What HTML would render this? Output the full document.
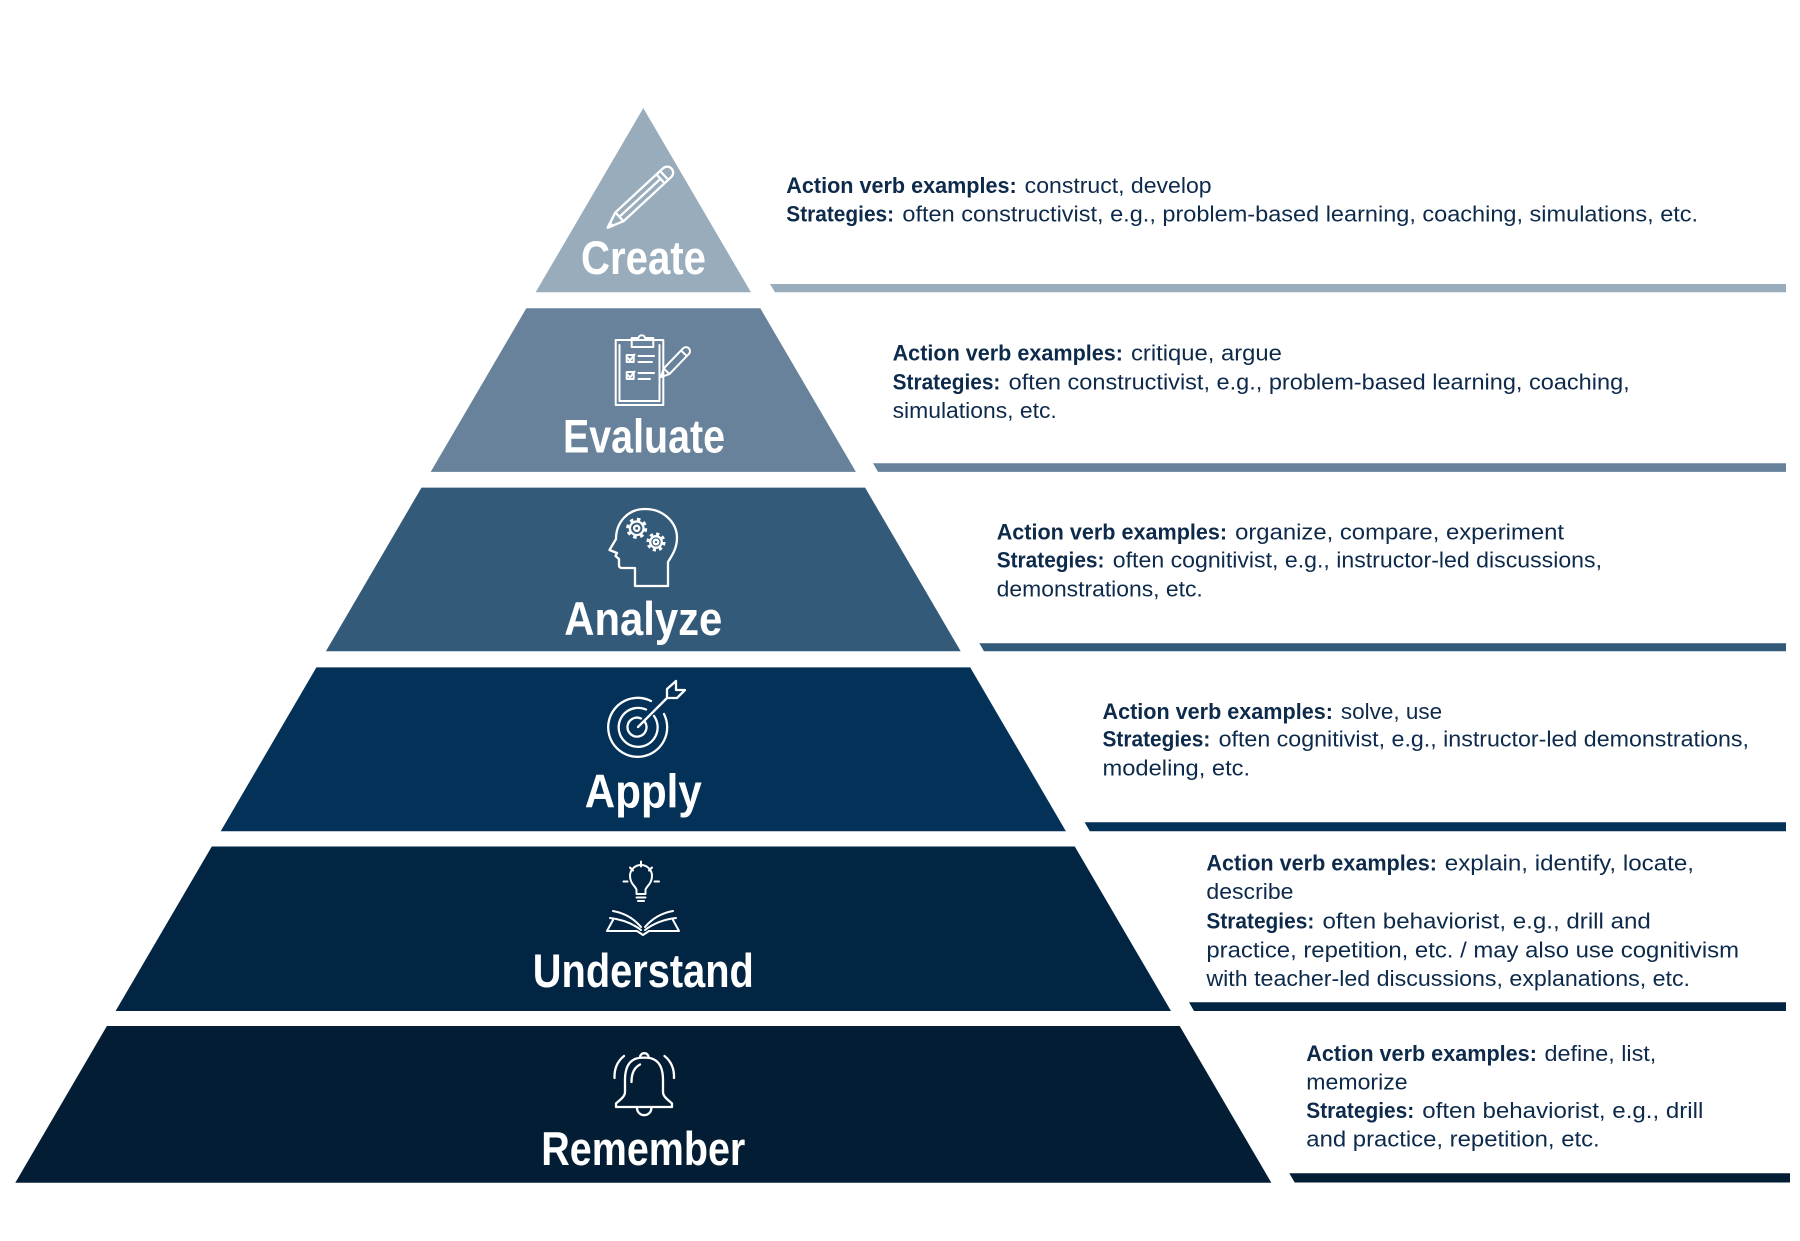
<!DOCTYPE html>
<html>
<head>
<meta charset="utf-8">
<style>
html,body{margin:0;padding:0;background:#ffffff;width:1800px;height:1241px;overflow:hidden}
svg{display:block}
.t{font-family:"Liberation Sans",Arial,sans-serif;font-size:22px;fill:#0d2a4b}
.b{font-weight:bold}
.h{font-family:"Liberation Sans",Arial,sans-serif;font-size:47px;font-weight:bold;fill:#ffffff}
.ic{fill:none;stroke:#ffffff;stroke-width:2.3;stroke-linecap:round;stroke-linejoin:round}
</style>
</head>
<body>
<svg width="1800" height="1241" viewBox="0 0 1800 1241" xmlns="http://www.w3.org/2000/svg">
<rect width="1800" height="1241" fill="#ffffff"/>

<!-- Pyramid bands -->
<polygon points="643.3,108.1 750.95,292.3 535.65,292.3" fill="#98acbc"/>
<polygon points="526.3,308.3 760.3,308.3 855.9,471.9 430.7,471.9" fill="#67829a"/>
<polygon points="421.5,487.6 865.1,487.6 960.7,651.3 325.9,651.3" fill="#345a7a"/>
<polygon points="316.4,667.4 970.2,667.4 1065.9,831.2 220.7,831.2" fill="#033158"/>
<polygon points="211.8,846.5 1074.8,846.5 1171.0,1011 115.6,1011" fill="#032544"/>
<polygon points="106.9,1026 1179.7,1026 1271.3,1182.7 15.3,1182.7" fill="#031e34"/>

<!-- Right bars -->
<polygon points="770,284 1786,284 1786,292.3 775,292.3" fill="#98acbc"/>
<polygon points="873,463.3 1786,463.3 1786,471.9 878,471.9" fill="#67829a"/>
<polygon points="979.3,643.3 1786,643.3 1786,651.3 984,651.3" fill="#345a7a"/>
<polygon points="1084.6,822.3 1786,822.3 1786,831.2 1089.8,831.2" fill="#033158"/>
<polygon points="1189,1002.3 1786,1002.3 1786,1011 1194,1011" fill="#032544"/>
<polygon points="1289.3,1173.3 1790,1173.3 1790,1182.5 1294.7,1182.5" fill="#031e34"/>

<!-- Band titles -->
<text class="h" x="643.5" y="274" text-anchor="middle" textLength="125" lengthAdjust="spacingAndGlyphs">Create</text>
<text class="h" x="644" y="452.3" text-anchor="middle" textLength="162" lengthAdjust="spacingAndGlyphs">Evaluate</text>
<text class="h" x="643.3" y="635" text-anchor="middle" textLength="158" lengthAdjust="spacingAndGlyphs">Analyze</text>
<text class="h" x="643.3" y="807.5" text-anchor="middle" textLength="117" lengthAdjust="spacingAndGlyphs">Apply</text>
<text class="h" x="643.3" y="987" text-anchor="middle" textLength="221" lengthAdjust="spacingAndGlyphs">Understand</text>
<text class="h" x="643.3" y="1165" text-anchor="middle" textLength="204" lengthAdjust="spacingAndGlyphs">Remember</text>

<!-- Icon: pencil (Create) -->
<g class="ic" transform="translate(607.7,227.7) rotate(-42.8)">
  <path d="M0,0 L16,-6 L72,-6 L72,6 L16,6 Z"/>
  <path d="M16,-6 L16,6"/>
  <path d="M16,0 L72,0"/>
  <path d="M72,-6 L77,-6 L77,6 L72,6"/>
  <path d="M77,-6 L81,-6 A6,6 0 0 1 81,6 L77,6"/>
  <path d="M0,0 L5,-2 L5,2 Z" fill="#ffffff"/>
</g>

<!-- Icon: clipboard (Evaluate) -->
<g class="ic" style="stroke-width:2">
  <rect x="615.7" y="340" width="47.6" height="65"/>
  <path d="M619.5,345 L619.5,401 L659.5,401 L659.5,345"/>
  <path d="M631.7,347 L631.7,338 L638.5,338 A3.3,3.3 0 0 1 645,338 L653.3,338 L653.3,347 Z"/>
  <rect x="626.7" y="355" width="7" height="7"/>
  <rect x="626.7" y="372" width="7" height="7"/>
  <path d="M628,358 L630,360.5 L634.5,354.5"/>
  <path d="M628,375 L630,377.5 L634.5,371.5"/>
  <path d="M638.5,356 L654,356 M638.5,362 L652,362 M638.5,373 L654,373 M638.5,379 L650,379"/>
</g>
<g class="ic" style="stroke-width:2" transform="translate(661,377) rotate(-46)">
  <path d="M0,0 L8,-4 L33,-4 L33,4 L8,4 Z"/>
  <path d="M33,-4 L36,-4 A4,4 0 0 1 36,4 L33,4"/>
  <path d="M8,-4 L8,4"/>
</g>

<!-- Icon: head with gears (Analyze) -->
<g class="ic">
  <path d="M635,586 L635,568 L622,568 Q619,568 619,565 L619,559 L615.5,556 L617,553 L609.5,550 L616,539 C616,522 628,509 645,509 C663,509 677,522 677,538 C677,549 671,557 668,562 L668,586 Z"/>
  <circle cx="636.7" cy="528.3" r="6.8"/>
  <circle cx="636.7" cy="528.3" r="2.6"/>
  <circle cx="636.7" cy="528.3" r="8.8" style="stroke-width:3.5;stroke-dasharray:3.4 3.5;stroke-linecap:butt"/>
  <circle cx="656" cy="542" r="5.8"/>
  <circle cx="656" cy="542" r="2.3"/>
  <circle cx="656" cy="542" r="7.8" style="stroke-width:3.5;stroke-dasharray:3.1 3.0;stroke-linecap:butt"/>
</g>

<!-- Icon: target (Apply) -->
<g class="ic">
  <path d="M664,714 A29.5,29.5 0 1 1 651,701"/>
  <path d="M654,716 A19.5,19.5 0 1 1 646,709.5"/>
  <path d="M645,722 A9.5,9.5 0 1 1 641,718.5"/>
  <path d="M638,727 L667,698"/>
  <path d="M667,698 L667,689 L676,681 L676,690 L685,690 L677,698 Z"/>
</g>

<!-- Icon: bulb over book (Understand) -->
<g class="ic" style="stroke-width:2">
  <path d="M636.5,894 L636.5,890 C636.5,887 630,884 630,876 A11,11 0 0 1 652,876 C652,884 645.5,887 645.5,890 L645.5,894 Z"/>
  <path d="M636.5,897.5 L645.5,897.5"/>
  <path d="M638,901 L644,901"/>
  <path d="M641,861.5 L641,866.5"/>
  <path d="M630,867.5 L633,870.5"/>
  <path d="M652,867.5 L649,870.5"/>
  <path d="M623.5,881.5 L627.5,881.5"/>
  <path d="M654.5,881.5 L659,881.5"/>
  <path d="M641,927 Q630,914 613,911"/>
  <path d="M641,930 Q628,920 610,918"/>
  <path d="M645,927 Q656,914 673,911"/>
  <path d="M645,930 Q658,920 676,918"/>
  <path d="M613,920 L607,931 L637,931 L643,935 L649,931 L679,931 L673,920"/>
</g>

<!-- Icon: bell (Remember) -->
<g class="ic">
  <path d="M640,1057.5 A4.3,4.3 0 0 1 648.6,1057.5"/>
  <path d="M634,1059.5 C627,1063 625,1071 625,1080 L625,1092 C625,1097 619,1100.5 616,1103.5 L616,1107 L672,1107 L672,1103.5 C669,1100.5 663,1097 663,1092 L663,1080 C663,1071 661,1063 654,1059.5 C650,1057 638,1057 634,1059.5 Z"/>
  <path d="M637,1108 A7.2,7.2 0 0 0 651.4,1108"/>
  <path d="M624,1056 Q614,1064 614.5,1078"/>
  <path d="M664.5,1056 Q674.5,1064 674,1078"/>
  <path d="M631.5,1082 Q631.5,1069 640,1064.5"/>
</g>

<!-- Create text -->
<text class="t b" x="786.3" y="193" textLength="230.4" lengthAdjust="spacingAndGlyphs">Action verb examples:</text>
<text class="t" x="1024.7" y="193" textLength="186.9" lengthAdjust="spacingAndGlyphs">construct, develop</text>
<text class="t b" x="786.3" y="221.5" textLength="107.8" lengthAdjust="spacingAndGlyphs">Strategies:</text>
<text class="t" x="902.4" y="221.5" textLength="795.7" lengthAdjust="spacingAndGlyphs">often constructivist, e.g., problem-based learning, coaching, simulations, etc.</text>

<!-- Evaluate text -->
<text class="t b" x="892.6" y="360.5" textLength="230.4" lengthAdjust="spacingAndGlyphs">Action verb examples:</text>
<text class="t" x="1131" y="360.5" textLength="150.9" lengthAdjust="spacingAndGlyphs">critique, argue</text>
<text class="t b" x="892.6" y="389.6" textLength="107.8" lengthAdjust="spacingAndGlyphs">Strategies:</text>
<text class="t" x="1008.7" y="389.6" textLength="621" lengthAdjust="spacingAndGlyphs">often constructivist, e.g., problem-based learning, coaching,</text>
<text class="t" x="892.6" y="418" textLength="164.2" lengthAdjust="spacingAndGlyphs">simulations, etc.</text>

<!-- Analyze text -->
<text class="t b" x="996.7" y="539.3" textLength="230.4" lengthAdjust="spacingAndGlyphs">Action verb examples:</text>
<text class="t" x="1235.1" y="539.3" textLength="328.9" lengthAdjust="spacingAndGlyphs">organize, compare, experiment</text>
<text class="t b" x="996.7" y="567.7" textLength="107.8" lengthAdjust="spacingAndGlyphs">Strategies:</text>
<text class="t" x="1112.8" y="567.7" textLength="489.2" lengthAdjust="spacingAndGlyphs">often cognitivist, e.g., instructor-led discussions,</text>
<text class="t" x="996.7" y="596.7" textLength="206.1" lengthAdjust="spacingAndGlyphs">demonstrations, etc.</text>

<!-- Apply text -->
<text class="t b" x="1102.5" y="719" textLength="230.4" lengthAdjust="spacingAndGlyphs">Action verb examples:</text>
<text class="t" x="1340.9" y="719" textLength="101.2" lengthAdjust="spacingAndGlyphs">solve, use</text>
<text class="t b" x="1102.5" y="746.7" textLength="107.8" lengthAdjust="spacingAndGlyphs">Strategies:</text>
<text class="t" x="1218.6" y="746.7" textLength="530.4" lengthAdjust="spacingAndGlyphs">often cognitivist, e.g., instructor-led demonstrations,</text>
<text class="t" x="1102.5" y="775.3" textLength="147.6" lengthAdjust="spacingAndGlyphs">modeling, etc.</text>

<!-- Understand text -->
<text class="t b" x="1206.4" y="870.7" textLength="230.6" lengthAdjust="spacingAndGlyphs">Action verb examples:</text>
<text class="t" x="1444.8" y="870.7" textLength="249.2" lengthAdjust="spacingAndGlyphs">explain, identify, locate,</text>
<text class="t" x="1206.4" y="899" textLength="87.1" lengthAdjust="spacingAndGlyphs">describe</text>
<text class="t b" x="1206.4" y="928.3" textLength="107.9" lengthAdjust="spacingAndGlyphs">Strategies:</text>
<text class="t" x="1322.5" y="928.3" textLength="328.3" lengthAdjust="spacingAndGlyphs">often behaviorist, e.g., drill and</text>
<text class="t" x="1206.4" y="957.3" textLength="532.6" lengthAdjust="spacingAndGlyphs">practice, repetition, etc. / may also use cognitivism</text>
<text class="t" x="1206.4" y="986" textLength="483.6" lengthAdjust="spacingAndGlyphs">with teacher-led discussions, explanations, etc.</text>

<!-- Remember text -->
<text class="t b" x="1306.3" y="1061" textLength="230.6" lengthAdjust="spacingAndGlyphs">Action verb examples:</text>
<text class="t" x="1544.5" y="1061" textLength="111.8" lengthAdjust="spacingAndGlyphs">define, list,</text>
<text class="t" x="1306.3" y="1089.3" textLength="101.3" lengthAdjust="spacingAndGlyphs">memorize</text>
<text class="t b" x="1306.3" y="1118" textLength="107.9" lengthAdjust="spacingAndGlyphs">Strategies:</text>
<text class="t" x="1422.3" y="1118" textLength="281" lengthAdjust="spacingAndGlyphs">often behaviorist, e.g., drill</text>
<text class="t" x="1306.3" y="1146.7" textLength="293.4" lengthAdjust="spacingAndGlyphs">and practice, repetition, etc.</text>

</svg>
</body>
</html>
